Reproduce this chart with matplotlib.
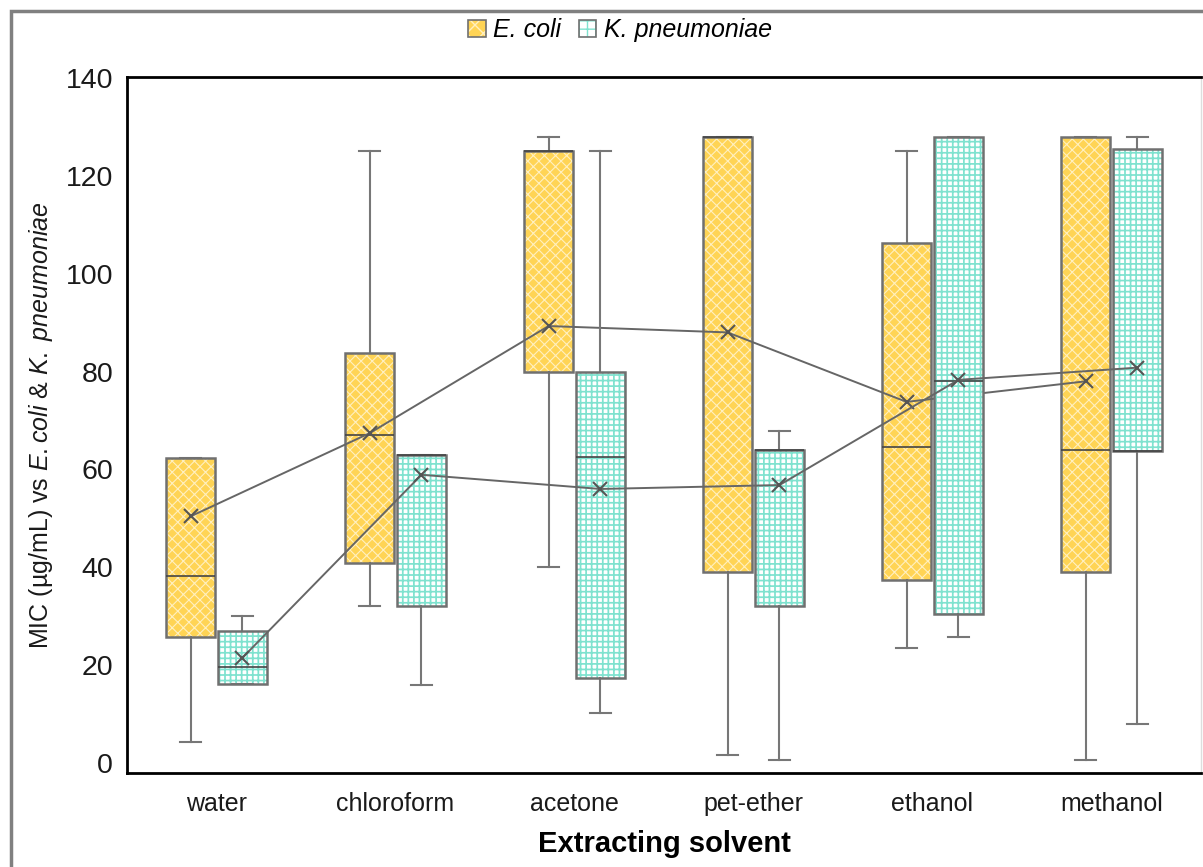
import matplotlib
matplotlib.use("Agg")
import matplotlib.pyplot as plt
from matplotlib.patches import PathPatch, Rectangle, Patch
from matplotlib.legend_handler import HandlerTuple
import numpy as np

plt.rcParams['font.family'] = ['Liberation Sans', 'DejaVu Sans']
plt.rcParams['mathtext.fontset'] = 'custom'
plt.rcParams['mathtext.rm'] = 'Liberation Sans'
plt.rcParams['mathtext.it'] = 'Liberation Sans:italic'
plt.rcParams['hatch.linewidth'] = 1.1

solvents = ["water", "chloroform", "acetone", "pet-ether", "ethanol", "methanol"]

# E. coli box statistics
ec_whislo = [4.3, 32.0, 40.0, 1.6, 23.5, 0.6]
ec_q1 = [25.7, 40.9, 80.0, 39.0, 37.4, 39.0]
ec_med = [38.2, 67.0, 125.0, 128.0, 64.6, 64.0]
ec_q3 = [62.4, 83.8, 125.0, 128.0, 106.3, 128.0]
ec_whishi = [62.4, 125.0, 128.0, 128.0, 125.0, 128.0]
ec_mean = [50.4, 67.4, 89.3, 88.0, 73.8, 78.0]

# K. pneumoniae box statistics
kp_whislo = [16.1, 16.0, 10.2, 0.6, 25.7, 8.0]
kp_q1 = [16.1, 32.0, 17.4, 32.0, 30.5, 63.8]
kp_med = [19.6, 63.0, 62.5, 64.0, 78.0, 63.8]
kp_q3 = [27.0, 63.0, 80.0, 64.0, 128.0, 125.5]
kp_whishi = [30.0, 63.0, 125.0, 67.9, 128.0, 128.0]
kp_mean = [21.5, 58.9, 56.0, 56.8, 78.3, 80.8]

EC_FACE, EC_HATCH, EC_HCOL = '#FFD455', 'xxx', '#FFF0C0'
KP_FACE, KP_HATCH, KP_HCOL = 'white', '+++', '#7FE2CF'
EDGE = '#707070'

fig = plt.figure(figsize=(12.03, 8.67), dpi=100)
ax = fig.add_axes([127/1203, 1 - 773/867, (1201 - 127)/1203, (773 - 77)/867])

x = np.arange(len(solvents))
off = 0.145
width = 0.273


def make_stats(lo, q1, med, q3, hi):
    return [dict(whislo=a, q1=b, med=c, q3=d, whishi=e, fliers=[])
            for a, b, c, d, e in zip(lo, q1, med, q3, hi)]


def draw(stats, pos, face, hatch, hatchcol, z, hlw):
    plt.rcParams['hatch.linewidth'] = hlw
    bp = ax.bxp(stats, positions=pos, widths=width, patch_artist=True,
                showfliers=False, capwidths=0.12, zorder=z,
                boxprops=dict(facecolor=face, edgecolor=hatchcol, hatch=hatch, linewidth=0),
                whiskerprops=dict(color='#777777', linewidth=1.5),
                capprops=dict(color='#777777', linewidth=1.5),
                medianprops=dict(color='#444444', linewidth=1.2))
    for b in bp['boxes']:
        ax.add_patch(PathPatch(b.get_path(), transform=b.get_transform(),
                               fill=False, edgecolor=EDGE, linewidth=1.8, zorder=z + 0.1))
    for m in bp['medians']:
        m.set_zorder(z + 0.2)
    return bp


draw(make_stats(ec_whislo, ec_q1, ec_med, ec_q3, ec_whishi), x - off,
     EC_FACE, EC_HATCH, EC_HCOL, 2, 0.8)
ax.plot(x - off, ec_mean, color='#666666', linewidth=1.4, marker='x',
        markersize=10, markeredgewidth=1.5, markeredgecolor='#555555', zorder=3)
draw(make_stats(kp_whislo, kp_q1, kp_med, kp_q3, kp_whishi), x + off,
     KP_FACE, KP_HATCH, KP_HCOL, 4, 1.25)
ax.plot(x + off, kp_mean, color='#666666', linewidth=1.4, marker='x',
        markersize=10, markeredgewidth=1.5, markeredgecolor='#555555', zorder=5)

ax.set_xlim(-0.5, 5.5)
ax.set_ylim(-2.05, 140.2)
ax.set_yticks(np.arange(0, 141, 20))
ax.set_yticklabels([str(v) for v in range(0, 141, 20)], fontsize=20.5, color='#1a1a1a')
ax.set_xticks(x)
ax.set_xticklabels(solvents, fontsize=18, color='#1a1a1a')
ax.tick_params(axis='y', length=0, pad=10)
ax.tick_params(axis='x', length=0, pad=14)

for s in ['left', 'bottom', 'top']:
    ax.spines[s].set_color('black')
    ax.spines[s].set_linewidth(2)
ax.spines['right'].set_color('#dddddd')
ax.spines['right'].set_linewidth(1)

ax.set_xlabel('Extracting solvent', fontsize=21, fontweight='bold', labelpad=10)
ax.set_ylabel(r'MIC (µg/mL) vs $\mathit{E.coli}$ & $\mathit{K.\ pneumoniae}$',
              fontsize=18, color='#1a1a1a')
ax.yaxis.set_label_coords(-0.067, 0.5)

# outer frame
fig.add_artist(Rectangle((11/1203, -0.1), 2, 1.1 - 11/867, transform=fig.transFigure,
                         fill=False, edgecolor='#808080', linewidth=2.5, clip_on=False))

plt.rcParams['hatch.linewidth'] = 1.0
h_ec = (Patch(facecolor=EC_FACE, edgecolor=EC_HCOL, hatch='xx', linewidth=0),
        Patch(facecolor='none', edgecolor=EDGE, linewidth=1.2))
h_kp = (Patch(facecolor=KP_FACE, edgecolor=KP_HCOL, hatch='++', linewidth=0),
        Patch(facecolor='none', edgecolor=EDGE, linewidth=1.2))
leg = fig.legend([h_ec, h_kp], ['E. coli', 'K. pneumoniae'], loc='center',
                 bbox_to_anchor=(620/1203, 1 - 30/867),
                 handler_map={tuple: HandlerTuple(ndivide=1, pad=0)},
                 ncol=2, frameon=False, handlelength=0.7, handleheight=0.7,
                 handletextpad=0.3, columnspacing=0.7,
                 prop={'style': 'italic', 'size': 18})

fig.savefig('out.png', dpi=100)
